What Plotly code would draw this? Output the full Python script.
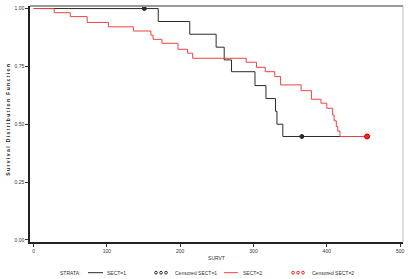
import plotly.graph_objects as go

# SECT=1 (black) Kaplan-Meier steps
t1 = [0, 170, 213, 249, 260, 270, 302, 317, 330, 332, 340, 455]
s1 = [1.0, 0.944, 0.889, 0.833, 0.778, 0.727, 0.667, 0.611, 0.556, 0.500, 0.447, 0.447]
c1_t = [151, 366, 455]
c1_s = [1.0, 0.447, 0.447]

# SECT=2 (red)
t2 = [0, 28, 50, 73, 102, 136, 160, 163, 175, 197, 210, 217, 290, 304, 316, 329, 337,
      365, 379, 392, 400, 408, 410, 413, 415, 418, 455]
s2 = [1.0, 0.982, 0.965, 0.940, 0.921, 0.903, 0.885, 0.867, 0.850, 0.824, 0.807, 0.785,
      0.768, 0.746, 0.727, 0.706, 0.670, 0.645, 0.608, 0.591, 0.569, 0.540, 0.515, 0.490,
      0.470, 0.447, 0.447]
c2_t = [455]
c2_s = [0.447]

xticks = [0, 100, 200, 300, 400, 500]
yticks = [0.0, 0.25, 0.5, 0.75, 1.0]
ytick_text = ["0.00", "0.25", "0.50", "0.75", "1.00"]

BLACK = "#2b2b2b"
RED = "#ee4040"
FONT = "Liberation Sans"

fig = go.Figure()
fig.add_trace(go.Scatter(x=t1, y=s1, mode="lines", line=dict(color=BLACK, width=1, shape="hv"),
                         showlegend=False))
fig.add_trace(go.Scatter(x=t2, y=s2, mode="lines", line=dict(color=RED, width=1, shape="hv"),
                         showlegend=False))
fig.add_trace(go.Scatter(x=c1_t, y=c1_s, mode="markers",
                         marker=dict(symbol="circle", size=4, color=BLACK,
                                     line=dict(color=BLACK, width=1)),
                         showlegend=False))
fig.add_trace(go.Scatter(x=c2_t, y=c2_s, mode="markers",
                         marker=dict(symbol="circle", size=5, color="#ff2020",
                                     line=dict(color="#cc0000", width=1)),
                         showlegend=False))

fig.update_layout(
    width=408, height=279,
    margin=dict(l=30, r=5, t=6, b=37),
    paper_bgcolor="white", plot_bgcolor="white",
    font=dict(family=FONT, size=5, color="#333"),
    xaxis=dict(range=[-5, 504], tickvals=xticks, ticks="outside", ticklen=3, tickcolor="#333",
               showgrid=False, zeroline=False, showline=True, linecolor="#222", linewidth=1.5,
               mirror=False, tickfont=dict(size=5, family=FONT),
               title=dict(text="SURVT", font=dict(size=5, family=FONT), standoff=4)),
    yaxis=dict(range=[-0.009, 1.011], tickvals=yticks, ticktext=ytick_text, ticks="outside",
               ticklen=3, tickcolor="#333", showgrid=False, zeroline=False, showline=True,
               linecolor="#222", linewidth=1.5, tickfont=dict(size=5, family=FONT)),
)

# y-axis title as bold rotated annotation
fig.add_annotation(xref="paper", yref="paper", x=-0.058, y=0.52,
                   text="<b>S u r v i v a l   D i s t r i b u t i o n   F u n c t i o n</b>",
                   textangle=-90, showarrow=False, xanchor="center", yanchor="middle",
                   font=dict(size=5, family=FONT, color="#222"))

# top and right frame lines (gray)
fig.add_shape(type="line", xref="paper", yref="paper", x0=0, x1=1, y0=1, y1=1,
              line=dict(color="#999", width=2))
fig.add_shape(type="line", xref="paper", yref="paper", x0=1, x1=1, y0=0, y1=1,
              line=dict(color="#bbb", width=1))

# manual legend below the plot
ly = -0.13  # paper y of legend row
def ptx(px):
    return (px - 30) / (408 - 30 - 5)

fig.add_annotation(xref="paper", yref="paper", x=ptx(58), y=ly, text="STRATA:", showarrow=False,
                   font=dict(size=5, family=FONT, color="#333"), xanchor="left", yanchor="middle")
fig.add_shape(type="line", xref="paper", yref="paper", x0=ptx(88), x1=ptx(103), y0=ly, y1=ly,
              line=dict(color=BLACK, width=1))
fig.add_annotation(xref="paper", yref="paper", x=ptx(105), y=ly, text="SECT=1", showarrow=False,
                   font=dict(size=5, family=FONT, color="#333"), xanchor="left", yanchor="middle")
for cx in [156, 161, 166]:
    fig.add_shape(type="circle", xref="paper", yref="paper",
                  x0=ptx(cx - 1.3), x1=ptx(cx + 1.3), y0=ly - 0.006, y1=ly + 0.006,
                  line=dict(color=BLACK, width=1))
fig.add_annotation(xref="paper", yref="paper", x=ptx(173), y=ly, text="Censored SECT=1",
                   showarrow=False, font=dict(size=5, family=FONT, color="#333"),
                   xanchor="left", yanchor="middle")
fig.add_shape(type="line", xref="paper", yref="paper", x0=ptx(224), x1=ptx(238), y0=ly, y1=ly,
              line=dict(color=RED, width=1))
fig.add_annotation(xref="paper", yref="paper", x=ptx(241), y=ly, text="SECT=2", showarrow=False,
                   font=dict(size=5, family=FONT, color="#333"), xanchor="left", yanchor="middle")
for cx in [293, 298, 303]:
    fig.add_shape(type="circle", xref="paper", yref="paper",
                  x0=ptx(cx - 1.3), x1=ptx(cx + 1.3), y0=ly - 0.006, y1=ly + 0.006,
                  line=dict(color="#ee2020", width=1))
fig.add_annotation(xref="paper", yref="paper", x=ptx(310), y=ly, text="Censored SECT=2",
                   showarrow=False, font=dict(size=5, family=FONT, color="#333"),
                   xanchor="left", yanchor="middle")

fig.write_html("out.html")
